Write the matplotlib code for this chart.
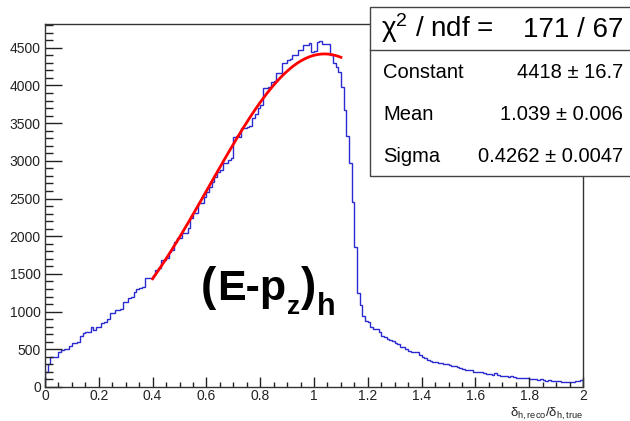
import numpy as np
import matplotlib
matplotlib.use("Agg")
import matplotlib.pyplot as plt
from matplotlib.patches import Rectangle
from matplotlib.lines import Line2D
from matplotlib.ticker import MultipleLocator

plt.rcParams['font.family'] = ['Liberation Sans', 'DejaVu Sans']
plt.rcParams['mathtext.fontset'] = 'custom'
plt.rcParams['mathtext.rm'] = 'Liberation Sans'
plt.rcParams['mathtext.it'] = 'Liberation Sans:italic'
plt.rcParams['mathtext.bf'] = 'Liberation Sans:bold'

# histogram: 200 bins of width 0.01 on [0, 2]
bin_lo, bin_hi, n_bins = 0.0, 2.0, 200
counts = [
    200, 310, 395, 395, 400, 470, 490, 505, 500, 540,          # 0.00-0.09
    590, 580, 600, 680, 720, 725, 730, 800, 755, 790,          # 0.10-0.19
    800, 850, 860, 900, 980, 985, 1020, 1015, 1040, 1125,      # 0.20-0.29
    1130, 1180, 1200, 1260, 1300, 1310, 1330, 1440, 1445, 1440,  # 0.30-0.39
    1483, 1550, 1572, 1682, 1690, 1705, 1793, 1815, 1926, 1975,  # 0.40-0.49
    1980, 2037, 2040, 2103, 2236, 2303, 2310, 2435, 2440, 2523,  # 0.50-0.59
    2590, 2656, 2722, 2790, 2855, 2877, 2970, 2975, 3010, 3037,  # 0.60-0.69
    3320, 3330, 3320, 3435, 3440, 3453, 3460, 3570, 3620, 3700,  # 0.70-0.79
    3740, 3960, 3965, 3984, 4050, 4055, 4162, 4165, 4295, 4300,  # 0.80-0.89
    4340, 4350, 4400, 4410, 4470, 4475, 4540, 4535, 4565, 4450,  # 0.90-0.99
    4455, 4580, 4585, 4550, 4548, 4552, 4405, 4296, 4250, 4183,  # 1.00-1.09
    3984, 3675, 3330, 2970, 2452, 1855, 1244, 1090, 940, 880,    # 1.10-1.19
    860, 790, 775, 770, 730, 670, 665, 640, 620, 615,            # 1.20-1.29
    580, 575, 530, 525, 500, 478, 470, 460, 465, 420,            # 1.30-1.39
    400, 390, 360, 350, 335, 330, 320, 318, 310, 300,            # 1.40-1.49
    290, 285, 280, 270, 250, 235, 228, 232, 220, 205,            # 1.50-1.59
    200, 198, 195, 180, 178, 170, 160, 190, 165, 150,            # 1.60-1.69
    145, 140, 138, 142, 128, 125, 120, 124, 118, 122,            # 1.70-1.79
    110, 105, 100, 98, 102, 95, 85, 88, 80, 82,                  # 1.80-1.89
    78, 80, 72, 65, 62, 68, 60, 85, 80, 95,                      # 1.90-1.99
]

# gaussian fit result (from the stats box)
fit_const = 4418
fit_mean = 1.039
fit_sigma = 0.4262
fit_range = (0.4, 1.1)

stat_names = ["Constant", "Mean", "Sigma"]
stat_values = ["4418 \u00b1 16.7", "1.039 \u00b1 0.006", "0.4262 \u00b1 0.0047"]
chi2_text = "171 / 67"

W, H = 630, 421
fig = plt.figure(figsize=(W / 100, H / 100), dpi=100)
renderer = fig.canvas.get_renderer()

def fx(px):
    return px / W

def fy(py):
    return 1 - py / H

ax = fig.add_axes([fx(45), fy(387), fx(583) - fx(45), fy(24) - fy(387)])

edges = np.linspace(bin_lo, bin_hi, n_bins + 1)
ax.stairs(counts, edges, baseline=0, color='#2a2ad0', lw=1.0)

xf = np.linspace(fit_range[0], fit_range[1], 300)
yf = fit_const * np.exp(-0.5 * ((xf - fit_mean) / fit_sigma) ** 2)
ax.plot(xf, yf, color='#ff0000', lw=2.0)

ax.set_xlim(0, 2)
ax.set_ylim(0, 4815)
ax.xaxis.set_major_locator(MultipleLocator(0.2))
ax.xaxis.set_minor_locator(MultipleLocator(0.05))
ax.yaxis.set_major_locator(MultipleLocator(500))
ax.yaxis.set_minor_locator(MultipleLocator(100))
ax.xaxis.set_major_formatter(matplotlib.ticker.FuncFormatter(lambda v, p: f"{v:g}"))
ax.tick_params(axis='both', which='both', direction='in', top=False, right=False,
               labelsize=10, colors='#222222', labelcolor='#222222')
ax.tick_params(axis='y', which='major', length=12, width=1.0, pad=3)
ax.tick_params(axis='y', which='minor', length=6, width=1.0)
ax.tick_params(axis='x', which='major', length=7.5, width=1.0, pad=1.5)
ax.tick_params(axis='x', which='minor', length=3.8, width=1.0)
for s in ax.spines.values():
    s.set_color('#333333')
    s.set_linewidth(1.0)

# big label (E-p_z)_h, built piece by piece
def put(txt, x_px, base_px, size):
    t = fig.text(fx(x_px), fy(base_px), txt, fontsize=size, fontweight='bold',
                 va='baseline', ha='left')
    return t.get_window_extent(renderer).x1

x = put('(', 201, 300.5, 33)
x = put('E-p', x + 1, 300, 31)
x = put('z', x + 1, 314, 19)
x = put(')', x, 300.5, 33)
put('h', x + 1, 315, 22)

# x-axis title
fig.text(fx(583), fy(416.5), r'$\mathrm{\delta_{h,reco}/\delta_{h,true}}$',
         ha='right', va='baseline', fontsize=9.5, color='#222222')

# stats box
fig.add_artist(Rectangle((fx(370), fy(176)), fx(640) - fx(370), fy(7) - fy(176),
                         transform=fig.transFigure, facecolor='white',
                         edgecolor='#444444', lw=1.0, zorder=5))
fig.add_artist(Line2D([fx(370), fx(640)], [fy(50), fy(50)], transform=fig.transFigure,
                      color='#444444', lw=1.0, zorder=6))
fig.text(fx(381), fy(37), 'χ$^{2}$ / ndf =', fontsize=20, va='baseline', ha='left', zorder=7)
fig.text(fx(623), fy(37), chi2_text, fontsize=20, va='baseline', ha='right', zorder=7)
for i, (name, val) in enumerate(zip(stat_names, stat_values)):
    by = 78.5 + i * 41.7
    fig.text(fx(383), fy(by), name, fontsize=14.5, va='baseline', ha='left', zorder=7)
    fig.text(fx(623), fy(by), val, fontsize=14.5, va='baseline', ha='right', zorder=7)

fig.savefig('out.png', dpi=100)
